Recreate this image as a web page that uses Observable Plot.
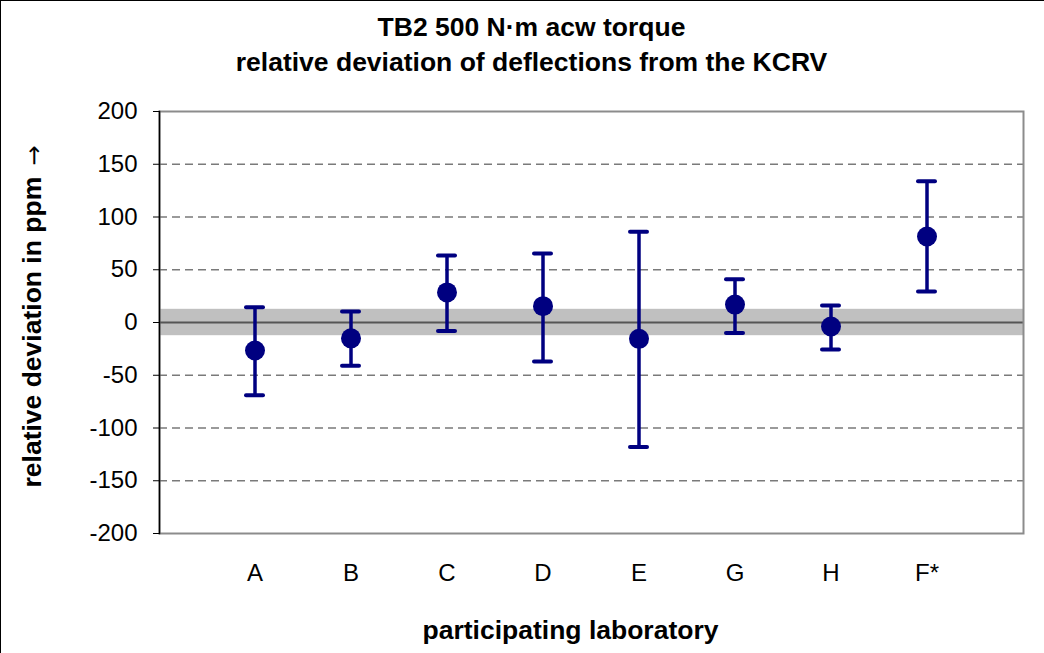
<!DOCTYPE html>
<html>
<head>
<meta charset="utf-8">
<script src="https://cdn.jsdelivr.net/npm/d3@7"></script>
<script src="https://cdn.jsdelivr.net/npm/@observablehq/plot@0.6"></script>
<style>
  html, body { margin: 0; padding: 0; background: #fff; }
  #chart { width: 1043px; height: 652px; border-top: 1px solid #000; border-left: 1px solid #000; background: #fff; overflow: hidden; }
  #chart svg { display: block; }
</style>
</head>
<body>
<div id="chart"></div>
<script>
// ---- data ----
const labs = ["A", "B", "C", "D", "E", "G", "H", "F*"];
const deviation = [-26.5, -15, 28.5, 15.5, -15.5, 17, -3.8, 81.5];
const upper = [14.5, 10.5, 63.5, 65.5, 86, 41, 16, 134];
const lower = [-69, -41, -8, -37, -118, -10, -25.5, 29.5];
const kcrvBand = [-12.5, 12.5];
const yTicks = [-200, -150, -100, -50, 0, 50, 100, 150, 200];
const gridValues = [-150, -100, -50, 50, 100, 150];
const titleLines = ["TB2 500 N·m acw torque", "relative deviation of deflections from the KCRV"];
const xLabel = "participating laboratory";
const yLabelWords = "relative deviation in ppm";
const yLabelArrow = "→";

const rows = labs.map((lab, i) => ({lab, dev: deviation[i], hi: upper[i], lo: lower[i]}));

const navy = "#000080";
const font = "'Liberation Sans', Arial, 'DejaVu Sans', sans-serif";

const chart = Plot.plot({
  width: 1043,
  height: 652,
  marginTop: 110,
  marginBottom: 120,
  marginLeft: 158,
  marginRight: 21,
  style: {fontFamily: font, fontSize: "24px", color: "#000", background: "#fff"},
  x: {type: "band", domain: labs, paddingInner: 0.82, paddingOuter: 0.91, label: null},
  y: {domain: [-200, 200], label: null},
  marks: [
    Plot.rect([kcrvBand], {y1: d => d[0], y2: d => d[1], fill: "#c0c0c0"}),
    Plot.ruleY(gridValues, {stroke: "#7a7a7a", strokeWidth: 1.5, strokeDasharray: "8,5"}),
    Plot.ruleY([0], {stroke: "#555", strokeWidth: 2}),
    Plot.frame({stroke: "#8c8c8c", strokeWidth: 2}),
    Plot.frame({anchor: "left", stroke: "#000", strokeWidth: 1.5}),
    Plot.axisY({ticks: yTicks, tickFormat: d => `${d}`, tickSize: 6, tickPadding: 16, stroke: "#000", fontSize: 24, label: null}),
    Plot.axisX({tickSize: 0, tickPadding: 30, fontSize: 24, label: null}),
    Plot.ruleX(rows, {x: "lab", y1: "lo", y2: "hi", stroke: navy, strokeWidth: 3.5}),
    Plot.tickY(rows, {x: "lab", y: "hi", stroke: navy, strokeWidth: 4, strokeLinecap: "round"}),
    Plot.tickY(rows, {x: "lab", y: "lo", stroke: navy, strokeWidth: 4, strokeLinecap: "round"}),
    Plot.dot(rows, {x: "lab", y: "dev", r: 10, fill: navy, stroke: "none"}),
    Plot.text([titleLines[0]], {text: d => d, frameAnchor: "top", lineAnchor: "top", dx: -60, dy: -94, fontSize: 26.5, fontWeight: "bold", fill: "#000"}),
    Plot.text([titleLines[1]], {text: d => d, frameAnchor: "top", lineAnchor: "top", dx: -60, dy: -59, fontSize: 26.5, fontWeight: "bold", fill: "#000"}),
    Plot.text([xLabel], {text: d => d, frameAnchor: "bottom", lineAnchor: "middle", dx: -21, dy: 97, fontSize: 26.5, fontWeight: "bold", fill: "#000"}),
    Plot.text([yLabelWords], {text: d => d, frameAnchor: "left", textAnchor: "start", lineAnchor: "middle", rotate: -90, dx: -127, dy: 165, fontSize: 26.5, fontWeight: "bold", fill: "#000"}),
    Plot.text([yLabelArrow], {text: d => d, frameAnchor: "left", textAnchor: "end", lineAnchor: "middle", rotate: -90, dx: -125, dy: -177, fontSize: 24, fontFamily: "'DejaVu Sans', sans-serif", fill: "#000"})
  ]
});
document.getElementById("chart").appendChild(chart);
</script>
</body>
</html>
